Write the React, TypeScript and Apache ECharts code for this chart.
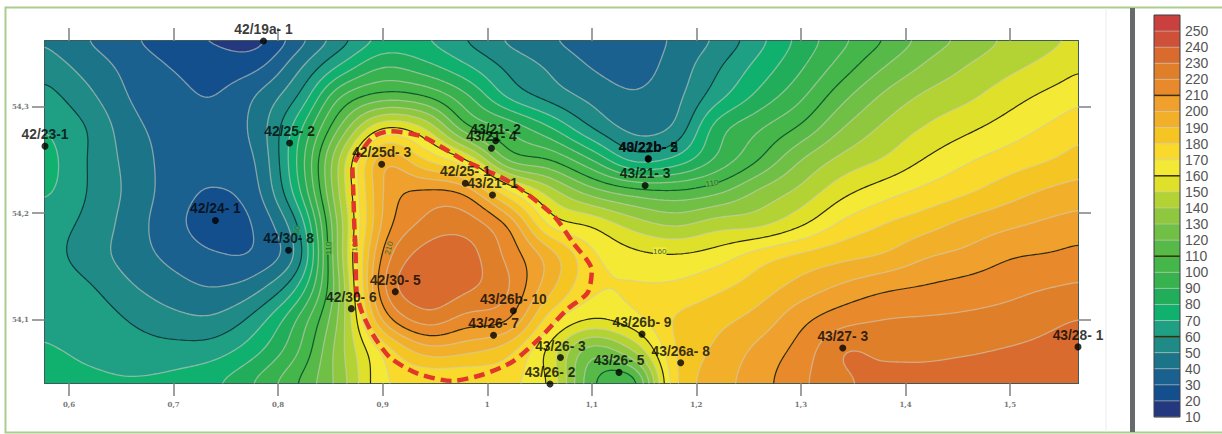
import React, { useEffect, useRef } from "react";
import * as echarts from "echarts";

const xMin = 0.577, xMax = 1.565, yMin = 54.04, yMax = 54.362;
const xTicks = [0.6, 0.7, 0.8, 0.9, 1, 1.1, 1.2, 1.3, 1.4, 1.5];
const yTicks = [54.1, 54.2, 54.3];

// value field
const gridXs = [0.56,0.58,0.62,0.66,0.70,0.74,0.78,0.82,0.86,0.90,0.94,0.98,1.02,1.06,1.10,1.14,1.18,1.22,1.26,1.30,1.34,1.38,1.42,1.46,1.50,1.54,1.58];
const gridYs = [54.37,54.34,54.31,54.28,54.25,54.22,54.19,54.16,54.13,54.10,54.07,54.04];
const row37 = [50,47,38,30,22,17,14,33,52,68,68,57,46,39,34,34,41,50,65,82,96,108,122,131,141,147,152];
const row34 = [57,54,45,36,29,25,27,47,70,88,82,70,57,48,39,36,44,58,73,88,104,119,131,140,147,153,160];
const row31 = [68,63,52,39,33,30,41,61,100,114,110,92,68,56,47,41,47,66,83,98,117,132,142,148,156,163,169];
const row28 = [73,69,59,43,36,34,44,77,122,160,150,113,98,81,60,47,52,85,99,112,130,142,151,158,165,172,178];
const row25 = [78,73,59,46,36,35,41,83,143,197,180,160,118,110,90,67,73,92,110,130,143,151,161,169,175,180,186];
const row22 = [72,71,59,47,35,29,38,78,143,200,212,207,172,145,125,115,112,118,132,143,157,166,173,179,186,192,195];
const row19 = [65,64,57,45,33,25,32,62,137,202,222,225,208,167,158,145,138,145,147,158,172,180,186,193,198,202,205];
const row16 = [64,63,55,45,37,31,32,55,137,212,234,234,217,195,172,163,161,165,175,182,187,191,199,203,209,211,214];
const row13 = [68,66,61,51,44,40,47,72,132,218,237,232,221,193,172,171,172,178,185,194,202,208,211,214,217,220,222];
const row10 = [72,67,66,59,53,52,65,92,134,202,225,216,211,175,160,167,181,187,194,207,216,220,221,222,224,228,231];
const row07 = [73,71,68,65,64,66,78,100,137,172,194,192,183,156,124,140,180,192,203,214,230,228,228,229,231,233,236];
const row04 = [75,74,72,71,73,79,92,111,135,168,170,170,172,158,112,104,178,195,206,218,228,233,233,235,236,237,240];
const fieldRows = [row37,row34,row31,row28,row25,row22,row19,row16,row13,row10,row07,row04];

const levels = [10,20,30,40,50,60,70,80,90,100,110,120,130,140,150,160,170,180,190,200,210,220,230,240,250];
const bandColors = ["#24387f","#134f8d","#1a6190","#1c7489","#1f8a86","#1fa084","#10b06f","#22ad5b","#38b24e","#45b649","#57b947","#6fc045","#8fc73f","#b3d334","#dfe02a","#f4e935","#f8d92c","#f5c524","#f2b02a","#f0a02d","#e8892b","#e07f2a","#d96b2e","#cf5038","#c9403f"];
const majorLevels = [60,110,160,210];

const contourLabels = [
  { x: 1.215, y: 54.228, text: "110", rot: 8, bg: "#57b947" },
  { x: 1.165, y: 54.164, text: "160", rot: 0, bg: "#f4e935" },
  { x: 0.906, y: 54.167, text: "210", rot: 75, bg: "#e98f2b" },
  { x: 0.848, y: 54.167, text: "110", rot: 90, bg: "#57b947" },
  { x: 0.873, y: 54.17, text: "160", rot: 90, bg: "#f4e935" },
  { x: 0.818, y: 54.184, text: "60", rot: 80, bg: "#1fa084" },
];

const wells: [number, number, string][] = [
  [0.786, 54.362, "42/19a- 1"],
  [0.577, 54.263, "42/23-1"],
  [0.811, 54.266, "42/25- 2"],
  [0.899, 54.246, "42/25d- 3"],
  [1.008, 54.268, "43/21- 2"],
  [1.004, 54.261, "43/21- 4"],
  [1.154, 54.251, "43/21b- 5"],
  [1.154, 54.251, "40/22b- 2"],
  [1.151, 54.226, "43/21- 3"],
  [0.979, 54.228, "42/25- 1"],
  [1.005, 54.217, "43/21- 1"],
  [0.74, 54.193, "42/24- 1"],
  [0.81, 54.165, "42/30- 8"],
  [0.87, 54.11, "42/30- 6"],
  [0.912, 54.126, "42/30- 5"],
  [1.025, 54.108, "43/26b- 10"],
  [1.006, 54.085, "43/26- 7"],
  [1.07, 54.064, "43/26- 3"],
  [1.06, 54.039, "43/26- 2"],
  [1.126, 54.05, "43/26- 5"],
  [1.148, 54.086, "43/26b- 9"],
  [1.185, 54.059, "43/26a- 8"],
  [1.34, 54.073, "43/27- 3"],
  [1.565, 54.074, "43/28- 1"],
];

const boundary: [number, number][] = [
  [0.871,54.243],[0.872,54.215],[0.873,54.184],[0.874,54.167],[0.875,54.126],[0.88,54.107],[0.891,54.085],[0.907,54.064],
  [0.933,54.049],[0.966,54.042],[0.996,54.048],[1.024,54.06],[1.05,54.082],[1.076,54.109],[1.096,54.125],[1.1,54.146],
  [1.082,54.172],[1.063,54.198],[1.022,54.229],[0.977,54.25],[0.938,54.272],[0.907,54.277],[0.891,54.272],[0.876,54.253],[0.871,54.243],
];

// ---------- rendering helpers ----------
const IsoShape = echarts.graphic.extendShape({
  type: "isoShape",
  shape: { rings: [] as number[][], closed: true },
  buildPath(ctx: any, shape: any) {
    for (const r of shape.rings) {
      ctx.moveTo(r[0], r[1]);
      for (let i = 2; i < r.length; i += 2) ctx.lineTo(r[i], r[i + 1]);
      if (shape.closed) ctx.closePath();
    }
  },
});
echarts.graphic.registerShape("isoShape", IsoShape);

function cr(p0: number, p1: number, p2: number, p3: number, t: number) {
  return 0.5 * (2 * p1 + (p2 - p0) * t + (2 * p0 - 5 * p1 + 4 * p2 - p3) * t * t + (3 * p1 - p0 - 3 * p2 + p3) * t * t * t);
}
function locate(arr: number[], v: number) {
  const asc = arr[1] > arr[0];
  let i = 0;
  while (i < arr.length - 2 && (asc ? arr[i + 1] < v : arr[i + 1] > v)) i++;
  return [i, (v - arr[i]) / (arr[i + 1] - arr[i])];
}
function sampleField(x: number, y: number) {
  const [ix, tx] = locate(gridXs, x);
  const [iy, ty] = locate(gridYs, y);
  const nx = gridXs.length, ny = gridYs.length;
  const col = (j: number) => {
    const r = fieldRows[Math.max(0, Math.min(ny - 1, j))];
    return cr(r[Math.max(0, ix - 1)], r[ix], r[ix + 1], r[Math.min(nx - 1, ix + 2)], tx);
  };
  return cr(col(iy - 1), col(iy), col(iy + 1), col(iy + 2), ty);
}

const NX = 344, NY = 114;
let samples: number[][] = [];
for (let j = 0; j <= NY; j++) {
  const y = yMax - ((yMax - yMin) * j) / NY;
  const line: number[] = [];
  for (let i = 0; i <= NX; i++) line.push(sampleField(xMin + ((xMax - xMin) * i) / NX, y));
  samples.push(line);
}
// soften the hand-read grid so the isolines run smoothly
function boxBlur(src: number[][], r: number) {
  const clampI = (v: number, hi: number) => Math.max(0, Math.min(hi, v));
  const h = src.map((line) => line.map((_, i) => {
    let s = 0;
    for (let d = -r; d <= r; d++) s += line[clampI(i + d, NX)];
    return s / (2 * r + 1);
  }));
  return h.map((line, j) => line.map((_, i) => {
    let s = 0;
    for (let d = -r; d <= r; d++) s += h[clampI(j + d, NY)][i];
    return s / (2 * r + 1);
  }));
}
samples = boxBlur(boxBlur(samples, 2), 2);

function regionRings(L: number, px: (i: number) => number, py: (j: number) => number) {
  const rings: number[][] = [];
  for (let j = 0; j < NY; j++) {
    let run = -1;
    for (let i = 0; i <= NX; i++) {
      const full = i < NX && samples[j][i] >= L && samples[j][i + 1] >= L && samples[j + 1][i] >= L && samples[j + 1][i + 1] >= L;
      if (full) {
        if (run < 0) run = i;
        continue;
      }
      if (run >= 0) {
        rings.push([px(run), py(j), px(i), py(j), px(i), py(j + 1), px(run), py(j + 1)]);
        run = -1;
      }
      if (i === NX) continue;
      const c = [
        [i, j, samples[j][i]],
        [i + 1, j, samples[j][i + 1]],
        [i + 1, j + 1, samples[j + 1][i + 1]],
        [i, j + 1, samples[j + 1][i]],
      ];
      const ring: number[] = [];
      for (let k = 0; k < 4; k++) {
        const a = c[k], b = c[(k + 1) % 4];
        if (a[2] >= L) ring.push(px(a[0]), py(a[1]));
        if (a[2] >= L !== b[2] >= L) {
          const t = (L - a[2]) / (b[2] - a[2]);
          ring.push(px(a[0] + (b[0] - a[0]) * t), py(a[1] + (b[1] - a[1]) * t));
        }
      }
      if (ring.length >= 6) rings.push(ring);
    }
  }
  return rings;
}

function contourSegments(L: number, px: (i: number) => number, py: (j: number) => number) {
  const segs: number[][] = [];
  for (let j = 0; j < NY; j++) {
    for (let i = 0; i < NX; i++) {
      const c = [
        [i, j, samples[j][i]],
        [i + 1, j, samples[j][i + 1]],
        [i + 1, j + 1, samples[j + 1][i + 1]],
        [i, j + 1, samples[j + 1][i]],
      ];
      const pts: number[] = [];
      for (let k = 0; k < 4; k++) {
        const a = c[k], b = c[(k + 1) % 4];
        if (a[2] >= L !== b[2] >= L) {
          const t = (L - a[2]) / (b[2] - a[2]);
          pts.push(px(a[0] + (b[0] - a[0]) * t), py(a[1] + (b[1] - a[1]) * t));
        }
      }
      if (pts.length === 4) segs.push(pts);
      else if (pts.length === 8) {
        segs.push(pts.slice(0, 4));
        segs.push(pts.slice(4, 8));
      }
    }
  }
  return segs;
}

function renderField(_: any, api: any) {
  const tl = api.coord([xMin, yMax]);
  const br = api.coord([xMax, yMin]);
  const px = (i: number) => +(tl[0] + ((br[0] - tl[0]) * i) / NX).toFixed(2);
  const py = (j: number) => +(tl[1] + ((br[1] - tl[1]) * j) / NY).toFixed(2);
  const children: any[] = [
    { type: "rect", shape: { x: tl[0], y: tl[1], width: br[0] - tl[0], height: br[1] - tl[1] }, style: { fill: bandColors[0] } },
  ];
  levels.forEach((L, k) => {
    if (k === 0) return;
    children.push({ type: "isoShape", shape: { rings: regionRings(L, px, py), closed: true }, style: { fill: bandColors[k], stroke: null } });
  });
  levels.forEach((L, k) => {
    if (k === 0) return;
    const major = majorLevels.includes(L);
    children.push({
      type: "isoShape",
      shape: { rings: contourSegments(L, px, py), closed: false },
      style: {
        fill: null,
        stroke: major ? (L < 100 ? "#0f3d3d" : L < 150 ? "#0f5a30" : "#2b2a10") : "rgba(205,205,190,0.6)",
        lineWidth: major ? 1.2 : 1.3,
        lineCap: "round",
      },
    });
  });
  contourLabels.forEach((c) => {
    const p = api.coord([c.x, c.y]);
    children.push({
      type: "text",
      x: p[0],
      y: p[1],
      rotation: (c.rot * Math.PI) / 180,
      style: {
        text: c.text,
        align: "center",
        verticalAlign: "middle",
        font: "8px 'Liberation Sans'",
        fill: "#2d6b3a",
        backgroundColor: c.bg,
      },
    });
  });
  return { type: "group", children };
}

function renderBar(params: any, api: any) {
  const k = api.value(0);
  const bottom = api.coord([0, levels[k]]);
  const top = api.coord([1, k + 1 < levels.length ? levels[k + 1] : 260]);
  const major = majorLevels.includes(levels[k]);
  return {
    type: "group",
    children: [
      { type: "rect", shape: { x: bottom[0], y: top[1], width: top[0] - bottom[0], height: bottom[1] - top[1] }, style: { fill: bandColors[k] } },
      {
        type: "line",
        shape: { x1: bottom[0], y1: bottom[1], x2: top[0], y2: bottom[1] },
        style: { stroke: major ? "#3a3000" : "rgba(200,200,190,0.55)", lineWidth: major ? 1.5 : 1 },
      },
    ],
  };
}

const axisTextStyle = { fontFamily: "'DejaVu Serif'", fontSize: 7, fontWeight: "bold" as const, color: "#777" };
const comma = (v: number) => String(v).replace(".", ",");

export default function App() {
  const ref = useRef<HTMLDivElement>(null);
  useEffect(() => {
    if (!ref.current) return;
    const chart = echarts.init(ref.current, undefined, { renderer: "svg" });
    const line = { show: true, onZero: false, lineStyle: { color: "#3d5a5c", width: 2 } };
    const tick = (vals: number[]) => ({ show: true, length: 13, inside: false, customValues: vals, lineStyle: { color: "#7f7f7f", width: 1.5 } });
    chart.setOption({
      animation: false,
      backgroundColor: "#ffffff",
      graphic: [
        { type: "rect", shape: { x: 5.5, y: 7.5, width: 1230, height: 425 }, style: { fill: "none", stroke: "#abcd8e", lineWidth: 2 }, silent: true },
        { type: "line", shape: { x1: 1106, y1: 8, x2: 1106, y2: 432 }, style: { stroke: "#ececec", lineWidth: 1 }, silent: true },
        { type: "rect", shape: { x: 1130, y: 8, width: 5, height: 424 }, style: { fill: "#666a6a" }, silent: true },
        { type: "rect", z: 100, shape: { x: 1154, y: 15, width: 26, height: 402 }, style: { fill: "none", stroke: "#3f3f46", lineWidth: 1 }, silent: true },
      ],
      grid: [
        { left: 45, top: 41, width: 1033, height: 342 },
        { left: 1154, top: 15, width: 26, height: 402 },
      ],
      xAxis: [
        {
          type: "value", min: xMin, max: xMax, position: "bottom", splitLine: { show: false }, axisLine: line, axisTick: tick(xTicks),
          axisLabel: { customValues: xTicks, margin: 18, formatter: comma, ...axisTextStyle },
        },
        { type: "value", min: xMin, max: xMax, position: "top", splitLine: { show: false }, axisLine: line, axisTick: tick(xTicks), axisLabel: { show: false } },
        { type: "value", gridIndex: 1, min: 0, max: 1, splitLine: { show: false }, axisLine: { show: false }, axisTick: { show: false }, axisLabel: { show: false } },
      ],
      yAxis: [
        {
          type: "value", min: yMin, max: yMax, position: "left", scale: true, splitLine: { show: false }, axisLine: line, axisTick: tick(yTicks),
          axisLabel: { customValues: yTicks, margin: 16, formatter: comma, ...axisTextStyle },
        },
        { type: "value", min: yMin, max: yMax, position: "right", scale: true, splitLine: { show: false }, axisLine: line, axisTick: tick(yTicks), axisLabel: { show: false } },
        {
          type: "value", gridIndex: 1, min: 10, max: 260, interval: 10, position: "right", splitLine: { show: false },
          axisLine: { show: false }, axisTick: { show: false },
          axisLabel: {
            margin: 5, fontFamily: "'Liberation Sans'", fontSize: 14, color: "#555",
            formatter: (v: number) => (v >= 260 ? "" : String(v)),
            showMinLabel: true, showMaxLabel: true, hideOverlap: false,
          },
        },
      ],
      series: [
        { type: "custom", renderItem: renderField, data: [[0]], xAxisIndex: 0, yAxisIndex: 0, silent: true, clip: false, z: 1 },
        {
          type: "line", data: boundary, xAxisIndex: 0, yAxisIndex: 0, smooth: 0.25, showSymbol: false, symbol: "none", silent: true, clip: false, z: 3,
          lineStyle: { color: "#e2352b", width: 4.5, type: [11, 6] },
        },
        {
          type: "scatter", xAxisIndex: 0, yAxisIndex: 0, symbol: "circle", symbolSize: 7, clip: false, z: 4, silent: true,
          itemStyle: { color: "#000" },
          data: wells.map((w) => ({ value: [w[0], w[1]], name: w[2] })),
          label: {
            show: true, position: "top", distance: 1, formatter: "{b}", color: "#050505",
            fontFamily: "'Liberation Sans'", fontSize: 13.8, fontWeight: "bold",
          },
          labelLayout: { hideOverlap: false },
        },
        {
          type: "custom", renderItem: renderBar, xAxisIndex: 2, yAxisIndex: 2, silent: true, z: 2,
          data: levels.map((_, k) => [k]),
        },
      ],
    });
    return () => chart.dispose();
  }, []);
  return <div ref={ref} style={{ position: "absolute", left: 0, top: 0, width: 1222, height: 434, overflow: "hidden" }} />;
}
